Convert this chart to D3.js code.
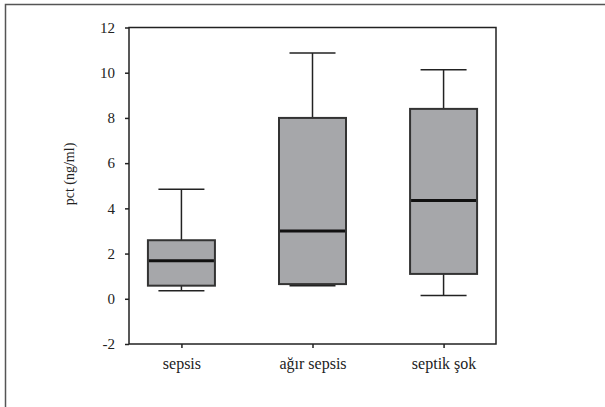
<!DOCTYPE html>
<html><head><meta charset="utf-8">
<script src="https://cdn.jsdelivr.net/npm/d3@7"></script>
<style>body{margin:0;background:#fff}svg{display:block}
svg text{font-family:"Liberation Serif","Times New Roman",Times,serif;}</style>
</head><body>
<svg id="c" width="605" height="407"></svg>
<script>
const categories = ["sepsis", "ağır sepsis", "septik şok"];
const whiskerLow = [0.35, 0.58, 0.14];
const q1 = [0.58, 0.65, 1.10];
const median = [1.68, 3.0, 4.35];
const q3 = [2.59, 8.0, 8.40];
const whiskerHigh = [4.85, 10.87, 10.13];
const yTicks = [-2, 0, 2, 4, 6, 8, 10, 12];
const yLabel = "pct (ng/ml)";

(function () {
const svg = d3.select("#c");
const pl = 129, pr = 496, pt = 27.5, pb = 344;

// outer frame
svg.append("path").attr("d", "M5.5,407 V4.5 H605")
  .attr("fill", "none").attr("stroke", "#555").attr("stroke-width", 1.5);

const x = d3.scalePoint().domain(categories).range([pl, pr]).padding(0.4);
const y = d3.scaleLinear().domain([-2, 12]).range([pb, pt]);

// plot frame
svg.append("rect").attr("x", pl).attr("y", pt)
  .attr("width", pr - pl).attr("height", pb - pt)
  .attr("fill", "none").attr("stroke", "#222").attr("stroke-width", 1.5);

const yAxis = svg.append("g").attr("transform", `translate(${pl},0)`)
  .call(d3.axisLeft(y).tickValues(yTicks).tickSize(4).tickPadding(10).tickFormat(d => String(d)));
const xAxis = svg.append("g").attr("transform", `translate(0,${pb})`)
  .call(d3.axisBottom(x).tickSize(4).tickPadding(10));
[yAxis, xAxis].forEach(a => {
  a.attr("font-family", null);
  a.select(".domain").remove();
  a.selectAll("line").attr("stroke", "#222").attr("stroke-width", 1.5);
  a.selectAll("text").attr("fill", "#222");
});
yAxis.attr("font-size", 15);
xAxis.attr("font-size", 16);

svg.append("text").attr("transform", `translate(74,174) rotate(-90)`)
  .attr("text-anchor", "middle").attr("font-size", 14)
  .attr("fill", "#222").text(yLabel);

const boxW = 67, capW = 46;
const g = svg.append("g");
categories.forEach((c, i) => {
  const cx = x(c);
  g.append("line").attr("x1", cx).attr("x2", cx).attr("y1", y(q3[i])).attr("y2", y(whiskerHigh[i]))
    .attr("stroke", "#222").attr("stroke-width", 1.5);
  g.append("line").attr("x1", cx).attr("x2", cx).attr("y1", y(q1[i])).attr("y2", y(whiskerLow[i]))
    .attr("stroke", "#222").attr("stroke-width", 1.5);
  [whiskerHigh[i], whiskerLow[i]].forEach(v => {
    g.append("line").attr("x1", cx - capW / 2).attr("x2", cx + capW / 2).attr("y1", y(v)).attr("y2", y(v))
      .attr("stroke", "#222").attr("stroke-width", 1.5);
  });
  g.append("rect").attr("x", cx - boxW / 2).attr("width", boxW)
    .attr("y", y(q3[i])).attr("height", y(q1[i]) - y(q3[i]))
    .attr("fill", "#a6a7aa").attr("stroke", "#333").attr("stroke-width", 2);
  g.append("line").attr("x1", cx - boxW / 2 + 1).attr("x2", cx + boxW / 2 - 1)
    .attr("y1", y(median[i])).attr("y2", y(median[i]))
    .attr("stroke", "#111").attr("stroke-width", 3);
});
})();
</script>
</body></html>
